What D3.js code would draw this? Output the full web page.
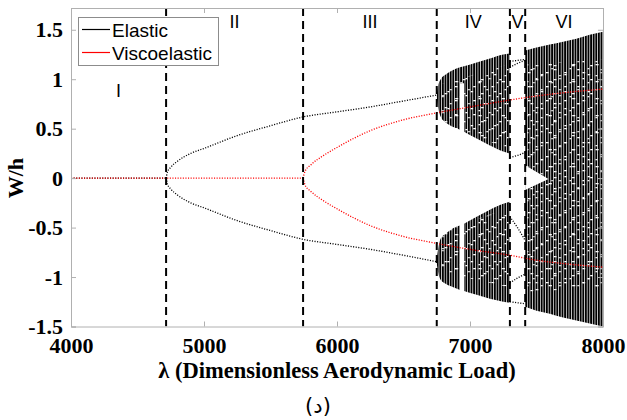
<!DOCTYPE html>
<html>
<head>
<meta charset="utf-8">
<script src="https://cdn.jsdelivr.net/npm/d3@7"></script>
<style>
  body { margin: 0; background: #fff; }
</style>
</head>
<body>
<div id="chart"></div>
<script>
// axis ticks
const xTicks = [4000, 5000, 6000, 7000, 8000];
const yTicks = [-1.5, -1, -0.5, 0, 0.5, 1, 1.5];
const yTickLabels = ["-1.5", "-1", "-0.5", "0", "0.5", "1", "1.5"];

// region boundaries (dashed lines) and names
const boundaries = [4715, 5745, 6750, 7300, 7415];
const regionNames = ["I", "II", "III", "IV", "V", "VI"];

// elastic branch (stable equilibria)
const elasticFlatLam = [4000, 4715];
const elasticFlat = [0, 0];
const elasticLam = [4715, 4725, 4750, 4800, 4900, 5000, 5250, 5500, 5750, 6000, 6250, 6500, 6750];
const elasticUp = [0, 0.06, 0.11, 0.17, 0.25, 0.30, 0.43, 0.53, 0.62, 0.67, 0.72, 0.78, 0.84];
const elasticLow = [0, -0.06, -0.11, -0.17, -0.25, -0.30, -0.43, -0.53, -0.62, -0.67, -0.72, -0.78, -0.845];

// viscoelastic branch
const viscoFlatLam = [4000, 5745];
const viscoFlat = [0, 0];
const viscoLam = [5745, 5760, 5800, 5900, 6000, 6250, 6500, 6750, 7000, 7300, 7500, 7750, 8000];
const viscoUp = [0, 0.07, 0.13, 0.23, 0.31, 0.48, 0.59, 0.66, 0.72, 0.79, 0.83, 0.87, 0.90];
const viscoLow = [0, -0.07, -0.13, -0.23, -0.31, -0.48, -0.59, -0.66, -0.72, -0.78, -0.83, -0.87, -0.90];

// region IV chaotic bands (elastic)
const ivLamA = [6750, 6760, 6780, 6820, 6870, 6925];
const ivUpTopA = [0.84, 0.93, 1.00, 1.05, 1.09, 1.12];
const ivUpBotA = [0.82, 0.72, 0.62, 0.56, 0.52, 0.49];
const ivLoTopA = [-0.82, -0.72, -0.61, -0.56, -0.51, -0.48];
const ivLoBotA = [-0.86, -0.95, -1.03, -1.07, -1.10, -1.13];
const ivLamGap = [6925, 6955];
const ivGapTop = [1.12, 1.13];
const ivGapBot = [0.96, 0.96];
const ivLamB = [6955, 7050, 7150, 7250, 7298];
const ivUpTopB = [1.13, 1.17, 1.21, 1.25, 1.26];
const ivUpBotB = [0.47, 0.40, 0.33, 0.27, 0.25];
const ivLoTopB = [-0.46, -0.39, -0.32, -0.26, -0.24];
const ivLoBotB = [-1.14, -1.18, -1.22, -1.25, -1.26];

// region V periodic branches (elastic)
const vLam = [7300, 7357, 7415];
const vBranches = [
    [1.18, 1.19, 1.20],
    [1.12, 1.16, 1.19],
    [0.21, 0.23, 0.26],
    [-0.39, -0.50, -0.63],
    [-1.06, -1.01, -0.97],
    [-1.25, -1.26, -1.27]
];

// region VI chaotic band (elastic)
const viLam = [7415, 7500, 7600, 7700, 7800, 7900, 8000];
const viTop = [1.29, 1.32, 1.35, 1.38, 1.41, 1.45, 1.48];
const viBot = [-1.30, -1.34, -1.37, -1.41, -1.44, -1.47, -1.50];
const notchLam = [7415, 7590];
const notchTop = [0.13, -0.01];
const notchBot = [-0.12, -0.01];

// scattered (sparser) part of the chaotic bands
const speckLamIV = [6780, 7290];
const speckTopIV = [0.95, 1.15];
const speckBotIV = [0.55, 0.30];
const speckLoTopIV = [-0.55, -0.30];
const speckLoBotIV = [-0.95, -1.10];
const speckLamVI = [7430, 7990];
const speckTopVI = [1.15, 1.20];
const speckBotVI = [-1.15, -1.10];

const width = 627;
const height = 420;
const margin = {left: 71, right: 24, top: 8, bottom: 93.5};

const svg = d3.select("#chart")
    .append("svg")
    .attr("width", width)
    .attr("height", height);

const x = d3.scaleLinear()
    .domain([4000, 8000])
    .range([margin.left, width - margin.right]);

const y = d3.scaleLinear()
    .domain([-1.5, 1.72])
    .range([height - margin.bottom, margin.top]);

const defs = svg.append("defs");
const stripes = defs.append("pattern")
    .attr("id", "stripes")
    .attr("patternUnits", "userSpaceOnUse")
    .attr("width", 2.6)
    .attr("height", 6);
stripes.append("rect")
    .attr("width", 1.9)
    .attr("height", 6)
    .attr("fill", "#000");

// white flecks, two tiles of different size so the texture doesn't repeat visibly
function speckPattern(id, w, h, spots) {
    const p = defs.append("pattern")
        .attr("id", id)
        .attr("patternUnits", "userSpaceOnUse")
        .attr("width", w)
        .attr("height", h);
    spots.forEach(s => {
        p.append("rect")
            .attr("x", s[0]).attr("y", s[1])
            .attr("width", s[2]).attr("height", 1.3)
            .attr("fill", "#fff");
    });
}
speckPattern("speckA", 18.2, 14, [[0, 2, 2.6], [7.8, 9, 2.6], [13, 5, 2], [5.2, 12, 1.8]]);
speckPattern("speckB", 23.4, 17, [[2.6, 6, 2.4], [15.6, 1, 2.6], [10.4, 13, 3.2], [20.8, 10, 2]]);

defs.append("clipPath").attr("id", "plot-clip")
    .append("rect")
    .attr("x", x(4000)).attr("y", y(1.72))
    .attr("width", x(8000) - x(4000))
    .attr("height", y(-1.5) - y(1.72));

const plot = svg.append("g").attr("clip-path", "url(#plot-clip)");

const zip = (xs, ys) => xs.map((v, i) => [v, ys[i]]);

const line = d3.line()
    .x(d => x(d[0]))
    .y(d => y(d[1]))
    .curve(d3.curveMonotoneX);

const band = d3.area()
    .x(d => x(d[0]))
    .y0(d => y(d[2]))
    .y1(d => y(d[1]))
    .curve(d3.curveMonotoneX);

const flat = d3.area()
    .x(d => x(d[0]))
    .y0(d => y(d[2]))
    .y1(d => y(d[1]));

function dotted(xs, ys, color) {
    plot.append("path")
        .datum(zip(xs, ys))
        .attr("d", line)
        .attr("fill", "none")
        .attr("stroke", color)
        .attr("stroke-width", 1.3)
        .attr("stroke-dasharray", "1.1,1.5");
}

function chaos(xs, tops, bots) {
    plot.append("path")
        .datum(xs.map((v, i) => [v, tops[i], bots[i]]))
        .attr("d", band)
        .attr("fill", "url(#stripes)");
}

function specks(xs, tops, bots) {
    ["speckA", "speckB"].forEach(id => {
        plot.append("path")
            .datum(xs.map((v, i) => [v, tops[i], bots[i]]))
            .attr("d", flat)
            .attr("fill", `url(#${id})`);
    });
}

// elastic
dotted(elasticFlatLam, elasticFlat, "#000");
dotted(elasticLam, elasticUp, "#000");
dotted(elasticLam, elasticLow, "#000");
vBranches.forEach(b => dotted(vLam, b, "#000"));

chaos(ivLamA, ivUpTopA, ivUpBotA);
chaos(ivLamA, ivLoTopA, ivLoBotA);
chaos(ivLamGap, ivGapTop, ivGapBot);
chaos(ivLamB, ivUpTopB, ivUpBotB);
chaos(ivLamB, ivLoTopB, ivLoBotB);
chaos(viLam, viTop, viBot);

specks(speckLamIV, speckTopIV, speckBotIV);
specks(speckLamIV, speckLoTopIV, speckLoBotIV);
specks(speckLamVI, speckTopVI, speckBotVI);

plot.append("path")
    .datum(notchLam.map((v, i) => [v, notchTop[i], notchBot[i]]))
    .attr("d", flat)
    .attr("fill", "#fff");

// viscoelastic
dotted(viscoFlatLam, viscoFlat, "#ff0000");
dotted(viscoLam, viscoUp, "#ff0000");
dotted(viscoLam, viscoLow, "#ff0000");

// dashed region boundaries
plot.selectAll(".boundary")
    .data(boundaries)
    .enter()
    .append("line")
    .attr("class", "boundary")
    .attr("x1", d => x(d))
    .attr("x2", d => x(d))
    .attr("y1", y(1.72))
    .attr("y2", y(-1.5))
    .attr("stroke", "#000")
    .attr("stroke-width", 2)
    .attr("stroke-dasharray", "8,5");

// axes
const axisColor = "#b0b0b0";
const tickFont = "'Liberation Serif', 'Times New Roman', serif";

const gx = svg.append("g")
    .attr("transform", `translate(0,${y(-1.5)})`)
    .call(d3.axisBottom(x).tickValues(xTicks).tickFormat(d3.format("d")).tickSize(-5).tickPadding(11));

const gy = svg.append("g")
    .attr("transform", `translate(${x(4000)},0)`)
    .call(d3.axisLeft(y).tickValues(yTicks).tickFormat((d, i) => yTickLabels[i]).tickSize(-5).tickPadding(8));

const gt = svg.append("g")
    .attr("transform", `translate(0,${y(1.72)})`)
    .call(d3.axisTop(x).tickValues(xTicks).tickFormat("").tickSize(-5));

const gr = svg.append("g")
    .attr("transform", `translate(${x(8000)},0)`)
    .call(d3.axisRight(y).tickValues(yTicks).tickFormat("").tickSize(-5));

[gx, gy, gt, gr].forEach(g => {
    g.select(".domain").attr("stroke", axisColor);
    g.selectAll(".tick line").attr("stroke", axisColor);
    g.selectAll("text")
        .attr("fill", "#000")
        .style("font-family", tickFont)
        .style("font-weight", "bold")
        .style("font-size", "22px");
});

// region labels
const edges = [4000].concat(boundaries, [8000]);
svg.selectAll(".region")
    .data(regionNames)
    .enter()
    .append("text")
    .attr("class", "region")
    .attr("x", (d, i) => x((edges[i] + edges[i + 1]) / 2))
    .attr("y", (d, i) => i === 0 ? 97 : 28)
    .attr("text-anchor", "middle")
    .style("font-family", "'Liberation Sans', Arial, sans-serif")
    .style("font-size", "18px")
    .text(d => d);

// legend
const legend = svg.append("g");
legend.append("rect")
    .attr("x", 78.5).attr("y", 17.5)
    .attr("width", 140).attr("height", 48)
    .attr("fill", "#fff")
    .attr("stroke", "#8c8c8c");

const legendItems = [["Elastic", "#000"], ["Viscoelastic", "#ff0000"]];
legendItems.forEach((item, i) => {
    const ly = 29.5 + i * 23;
    legend.append("line")
        .attr("x1", 82).attr("x2", 110)
        .attr("y1", ly).attr("y2", ly)
        .attr("stroke", item[1])
        .attr("stroke-width", 1.2);
    legend.append("text")
        .attr("x", 112)
        .attr("y", ly + 7)
        .style("font-family", "'Liberation Sans', Arial, sans-serif")
        .style("font-size", "19px")
        .text(item[0]);
});

// axis titles
svg.append("text")
    .attr("x", (x(4000) + x(8000)) / 2)
    .attr("y", 378)
    .attr("text-anchor", "middle")
    .style("font-family", tickFont)
    .style("font-weight", "bold")
    .style("font-size", "22.5px")
    .text("λ (Dimensionless Aerodynamic Load)");

svg.append("text")
    .attr("transform", `translate(23,${y(0)}) rotate(-90)`)
    .attr("text-anchor", "middle")
    .style("font-family", tickFont)
    .style("font-weight", "bold")
    .style("font-size", "22px")
    .text("W/h");

svg.append("text")
    .attr("x", 318)
    .attr("y", 413)
    .attr("text-anchor", "middle")
    .style("font-family", "'DejaVu Sans', sans-serif")
    .style("font-size", "21px")
    .text("(د)");
</script>
</body>
</html>
